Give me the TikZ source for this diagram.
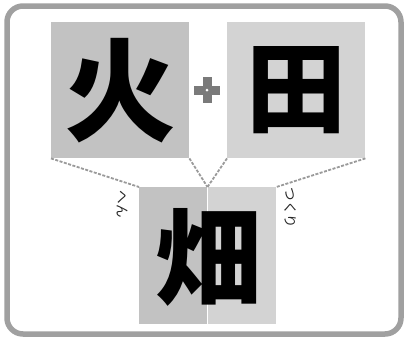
\documentclass[tikz,border=0pt]{standalone}
\usepackage{fontspec}
\newfontfamily\cjk{Noto Sans CJK JP}
\definecolor{frame}{HTML}{A0A0A0}
\definecolor{boxdark}{HTML}{C2C2C2}
\definecolor{boxlight}{HTML}{D3D3D3}
\definecolor{plusc}{HTML}{7A7A7A}
\definecolor{dashc}{HTML}{9A9A9A}
\tikzset{
  charbox/.style={draw=none, inner sep=0pt, minimum width=138pt, minimum height=136pt},
  bigchar/.style={font=\cjk\bfseries\fontsize{112}{112}\selectfont, text=black},
  halfbox/.style={draw=none, inner sep=0pt, minimum width=68pt, minimum height=137pt, anchor=north west},
  link/.style={draw=dashc, line width=1.8pt, dash pattern=on 3pt off 1.5pt},
  side/.style={font=\cjk\fontsize{13.5}{13.5}\selectfont, text=black!85, rotate=-90, inner sep=0pt}
}
\begin{document}
\begin{tikzpicture}[x=1pt,y=-1pt]
\useasboundingbox (0,0) rectangle (407,341);
\fill[white] (0,0) rectangle (407,341);
\draw[frame, line width=5.5pt, rounded corners=16pt] (7,6) rectangle (401,334);
% top boxes
\node[charbox, fill=boxdark, anchor=north west] (L) at (51,22) {};
\node[charbox, fill=boxlight, anchor=north west] (R) at (227,22) {};
\node[bigchar] (Lc) at (L.center) {火};
\node[bigchar, font=\cjk\bfseries\fontsize{100}{100}\selectfont] (Rc) at (R.center) {田};
% plus sign
\node[fill=plusc, minimum width=26pt, minimum height=9pt, inner sep=0pt] (ph) at (207,90) {};
\node[fill=plusc, minimum width=9pt, minimum height=26pt, inner sep=0pt] (pv) at (207,90) {};
\node[fill=white, circle, minimum size=3pt, inner sep=0pt] (pd) at (207,90) {};
% bottom box
\node[halfbox, fill=boxdark] (BL) at (139,187) {};
\node[halfbox, fill=boxlight] (BR) at (208,187) {};
\coordinate (Bmid) at (207.5,187);
\draw[white, line width=1.5pt] (207.5,187) -- (207.5,324);
\node[font=\cjk\bfseries\fontsize{106}{106}\selectfont] (Bc) at (208,257) {畑};
% dashed connectors
\draw[link] (L.south west) -- (BL.north west);
\draw[link] (L.south east) -- (Bmid);
\draw[link] (R.south west) -- (Bmid);
\draw[link] (R.south east) -- (BR.north east);
% labels
\node[side] (hen) at (122,204) {へん};
\node[side] (tsukuri) at (290,208) {つくり};
\end{tikzpicture}
\end{document}
